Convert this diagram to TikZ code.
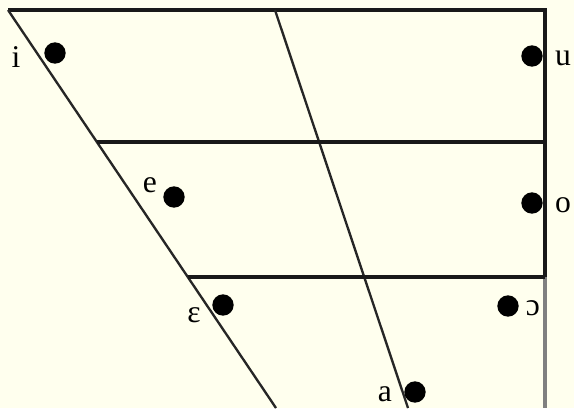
\documentclass[tikz,border=0pt]{standalone}
\usepackage{fontspec}
\setmainfont{Liberation Serif}
\usetikzlibrary{positioning}
\definecolor{paper}{HTML}{FFFFEE}

\begin{document}
\begin{tikzpicture}[
    x=0.03cm, y=-0.03cm,
    frame/.style={line width=2.8pt, black!90},
    slant/.style={line width=2pt, black!85},
    lowside/.style={line width=2.8pt, black!50},
    vowel/.style={circle, fill=black, inner sep=0pt, minimum size=0.64cm},
    vlabel/.style={anchor=base, inner sep=0pt, font=\fontsize{27}{30}\selectfont}
]
\fill[paper] (0,0) rectangle (574,408);
\useasboundingbox (0,0) rectangle (574,408);
% corners of the trapezium
\coordinate (topleft) at (8,10);
\coordinate (topright) at (545,10);
\coordinate (topmid) at (275,10);
\coordinate (botleft) at (276,408);
\coordinate (botmid) at (408,408);
\coordinate (botright) at (545,408);
\coordinate (midleft) at (97,142);
\coordinate (midright) at (545,142);
\coordinate (lowleft) at (188,277);
\coordinate (lowright) at (545,277);
% outline and grid
\draw[frame] (topleft) -- (topright) -- (lowright);
\draw[lowside] (lowright) -- (botright);
\draw[slant] (topleft) -- (botleft);
\draw[slant] (topmid) -- (botmid);
\draw[frame] (midleft) -- (midright);
\draw[frame] (lowleft) -- (lowright);
% vowels
\node[vowel] (i) at (55,53) {};
\node[vowel] (u) at (532,56) {};
\node[vowel] (e) at (174,197) {};
\node[vowel] (o) at (532,203) {};
\node[vowel] (eps) at (223,305) {};
\node[vowel] (oo) at (508,306) {};
\node[vowel] (a) at (415,392) {};
\node[vlabel] (i-lab) at (16,67) {i};
\node[vlabel] (u-lab) at (563,65) {u};
\node[vlabel] (e-lab) at (150,192) {e};
\node[vlabel] (o-lab) at (563,212) {o};
\node[vlabel] (eps-lab) at (194,322) {ɛ};
\node[vlabel] (oo-lab) at (533,315) {ɔ};
\node[vlabel] (a-lab) at (385,401) {a};
\end{tikzpicture}
\end{document}
